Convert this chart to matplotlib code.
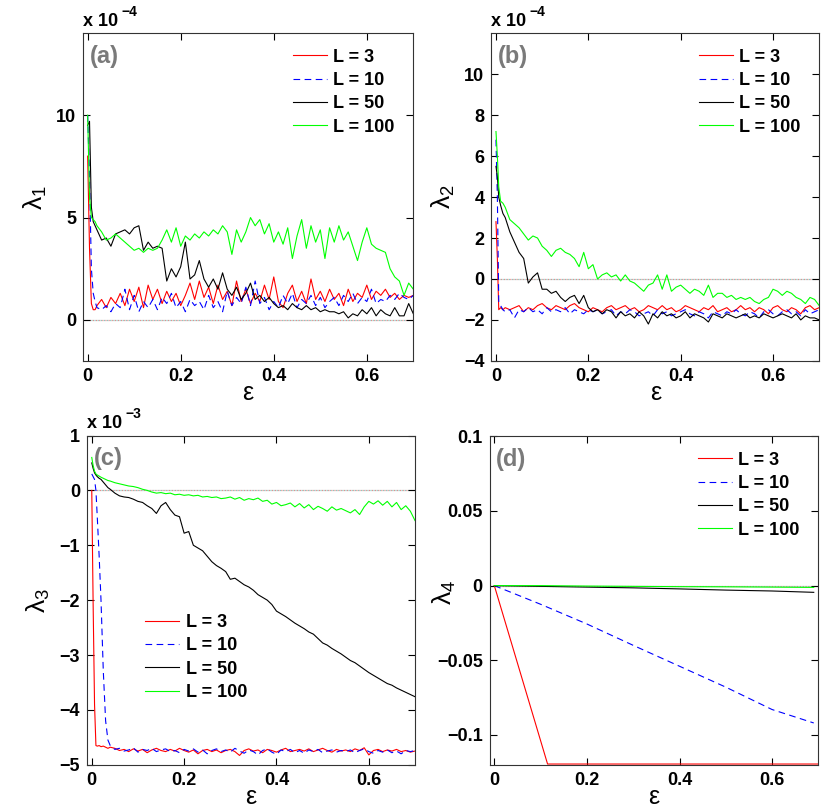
import numpy as np
import matplotlib
matplotlib.use('Agg')
import matplotlib.pyplot as plt

plt.rcParams['font.family'] = ['Liberation Sans', 'DejaVu Sans']
plt.rcParams['mathtext.fontset'] = 'custom'
plt.rcParams['mathtext.rm'] = 'Liberation Sans'
plt.rcParams['mathtext.bf'] = 'Liberation Sans:bold'
plt.rcParams['mathtext.it'] = 'Liberation Sans'
plt.rcParams['mathtext.default'] = 'regular'

labels = ['L = 3', 'L = 10', 'L = 50', 'L = 100']

# common tail grid 0.03 .. 0.70 (panels a, b)
tail_ab = np.round(np.arange(0.03, 0.7001, 0.01), 2)

# ---- (a) lambda_1, units of 1e-4
x_a = np.concatenate([[0, 0.004, 0.008, 0.012, 0.016, 0.02], tail_ab])
a_L3 = [8.0, 3.5, 0.8, 0.5, 0.5, 0.7,
        1.0, 0.6, 1.1, 0.8, 1.3, 0.7, 1.5, 0.9, 1.6, 0.6,
        1.7, 1.0, 1.5, 0.8, 1.4, 0.9, 1.3, 0.7, 1.2, 1.8,
        1.0, 1.9, 1.1, 1.6, 0.8, 1.7, 1.0, 1.4, 0.7, 1.9,
        0.9, 1.5, 0.8, 1.3, 0.9, 1.7, 1.0, 2.1, 0.9, 0.6,
        1.3, 1.7, 0.9, 1.4, 0.8, 2.0, 1.0, 1.4, 0.9, 1.5,
        1.0, 1.3, 0.7, 1.5, 0.9, 1.3, 1.1, 1.7, 1.0, 1.4,
        1.2, 1.5, 1.1, 1.3, 1.0, 1.2, 1.1, 1.2]
a_L10 = [10.0, 7.0, 2.5, 1.3, 0.9, 0.6,
         0.5, 0.7, 0.4, 0.8, 0.6, 1.5, 0.5, 1.2, 0.4, 0.9,
         0.6, 1.0, 0.5, 1.1, 0.8, 1.3, 0.6, 0.9, 0.4, 1.0,
         0.7, 0.9, 0.5, 1.2, 0.6, 0.9, 0.4, 1.4, 0.7, 1.1,
         0.8, 1.6, 0.7, 1.9, 0.8, 1.1, 0.5, 0.9, 0.6, 1.2,
         0.8, 1.3, 0.6, 1.0, 0.8, 1.2, 0.7, 1.1, 0.6, 0.9,
         1.1, 0.7, 1.2, 0.9, 1.3, 0.8, 1.1, 0.9, 1.5, 0.8,
         1.0, 0.9, 1.2, 1.0, 1.3, 1.1, 1.0, 1.2]
a_L50 = [9.5, 9.7, 5.5, 4.8, 4.6, 4.4,
         3.9, 4.0, 3.6, 4.2, 4.3, 4.4, 4.2, 4.5, 4.6, 3.4,
         3.8, 3.5, 3.6, 3.5, 1.9, 2.5, 2.1, 2.6, 3.8, 2.0,
         2.2, 2.9, 2.0, 1.6, 2.0, 1.5, 2.3, 1.5, 1.2, 1.6,
         1.0, 1.3, 1.8, 1.0, 1.2, 0.9, 1.1, 0.8, 0.6, 0.7,
         0.5, 0.8, 0.6, 0.5, 0.7, 0.5, 0.6, 0.4, 0.5, 0.4,
         0.4, 0.3, 0.4, 0.1, 0.3, 0.2, 0.5, 0.3, 0.6, 0.2,
         0.5, 0.3, 0.2, 0.6, 0.2, 0.2, 0.8, 0.3]
a_L100 = [10.0, 6.0, 5.0, 4.9, 4.8, 4.6,
          4.3, 3.9, 4.0, 4.2, 4.0, 3.8, 3.6, 3.4, 3.5, 3.3,
          3.5, 3.4, 3.5, 3.9, 4.4, 3.8, 4.5, 3.6, 4.1, 3.9,
          4.2, 4.0, 4.3, 4.1, 4.4, 4.2, 4.6, 4.3, 3.2, 4.4,
          3.8, 4.3, 5.0, 4.6, 4.9, 4.2, 4.7, 3.8, 4.3, 3.7,
          4.5, 3.0, 4.1, 4.9, 3.5, 4.6, 3.8, 4.4, 3.0, 4.5,
          3.8, 4.6, 3.9, 4.3, 3.6, 2.9, 3.8, 4.5, 3.7, 3.5,
          3.4, 3.3, 2.5, 2.1, 1.9, 1.2, 1.8, 1.5]

# ---- (b) lambda_2, units of 1e-4
x_b = np.concatenate([[0, 0.003, 0.006, 0.01, 0.015, 0.02], tail_ab])
b_L3 = [2.8, 1.0, -1.5, -1.4, -1.5, -1.4,
        -1.5, -1.4, -1.3, -1.6, -1.4, -1.5, -1.3, -1.2, -1.4, -1.5,
        -1.3, -1.4, -1.5, -1.3, -1.2, -1.4, -1.5, -1.6, -1.4, -1.5,
        -1.6, -1.4, -1.3, -1.5, -1.4, -1.3, -1.5, -1.4, -1.6, -1.5,
        -1.3, -1.4, -1.5, -1.3, -1.5, -1.4, -1.6, -1.5, -1.3, -1.4,
        -1.5, -1.6, -1.4, -1.5, -1.3, -1.6, -1.5, -1.4, -1.6, -1.5,
        -1.3, -1.5, -1.4, -1.6, -1.4, -1.5, -1.7, -1.4, -1.3, -1.5,
        -1.6, -1.4, -1.5, -1.7, -1.4, -1.3, -1.5, -1.4]
b_L10 = [6.8, 4.0, -1.1, -1.3, -1.5, -1.6,
         -1.5, -1.9, -1.5, -1.6, -1.4, -1.6, -1.5, -1.7, -1.4, -1.6,
         -1.5, -1.6, -1.4, -1.7, -1.5, -1.6, -1.7, -1.5, -1.6, -1.5,
         -1.7, -1.6, -1.5, -1.8, -1.6, -1.7, -1.5, -1.6, -1.8, -1.7,
         -1.6, -1.8, -1.5, -1.7, -1.6, -1.8, -1.7, -1.6, -1.5, -1.7,
         -1.8, -1.6, -1.7, -1.9, -1.6, -1.7, -1.8, -1.6, -1.7, -1.5,
         -1.7, -1.8, -1.6, -1.7, -1.9, -1.6, -1.5, -1.7, -1.8, -1.6,
         -1.5, -1.7, -1.6, -1.8, -1.5, -1.7, -1.6, -1.5]
b_L50 = [5.5, 5.0, 4.0, 3.6, 3.2, 3.0,
         2.3, 1.8, 1.3, 1.0, -0.2, 0.1, 0.3, -0.5, -0.5, -0.7,
         -0.6, -0.9, -1.1, -0.9, -0.8, -1.2, -0.8, -1.4, -1.6, -1.5,
         -1.7, -1.5, -1.6, -1.9, -1.6, -1.8, -1.7, -1.9, -1.6, -1.8,
         -2.2, -1.7, -1.9, -1.6, -1.8, -1.7, -1.9, -1.8, -1.6, -1.9,
         -1.7, -1.8, -1.9, -2.1, -1.7, -1.8, -1.9, -1.7, -1.8, -1.9,
         -1.8, -1.7, -1.9, -1.8, -1.9, -1.7, -1.8, -1.9, -1.8, -1.7,
         -1.8, -1.9, -1.7, -2.0, -1.8, -1.9, -1.9, -2.0]
b_L100 = [7.2, 6.0, 4.5, 3.8, 3.7, 3.5,
          2.9, 2.7, 2.5, 2.2, 1.9, 2.1, 2.0, 1.6, 1.4, 1.1,
          1.4, 1.5, 1.3, 1.2, 1.0, 0.6, 1.3, 0.5, 0.7, 0.0,
          0.2, 0.3, 0.1, 0.2, -0.1, 0.2, -0.1, -0.2, -0.4, -0.6,
          -0.3, -0.2, 0.2, -0.5, 0.2, -0.6, -0.4, -0.3, -0.5, -0.7,
          -0.5, -0.6, -0.8, -0.3, -0.9, -0.7, -0.7, -0.9, -0.8, -1.0,
          -0.9, -1.0, -0.9, -1.1, -1.2, -1.0, -0.9, -0.5, -0.6, -0.8,
          -0.6, -0.7, -0.9, -1.0, -1.2, -0.9, -1.0, -1.3]

# ---- (c) lambda_3, units of 1e-3
tail_c = np.round(np.arange(0.05, 0.7001, 0.01), 2)
x_c = np.concatenate([[0, 0.003, 0.006, 0.009, 0.012, 0.016, 0.02, 0.025, 0.03, 0.035, 0.04], tail_c])
c_L3 = [0.0, -2.1, -3.9, -4.65, -4.66, -4.65, -4.67, -4.66, -4.68, -4.70, -4.68,
        -4.70, -4.74, -4.72, -4.76, -4.71, -4.75, -4.72, -4.78, -4.73, -4.70,
        -4.74, -4.76, -4.72, -4.75, -4.70, -4.74, -4.77, -4.73, -4.80, -4.74,
        -4.72, -4.76, -4.73, -4.78, -4.74, -4.72, -4.76, -4.83, -4.74, -4.71,
        -4.75, -4.73, -4.78, -4.72, -4.74, -4.77, -4.73, -4.70, -4.76, -4.74,
        -4.72, -4.75, -4.71, -4.76, -4.73, -4.70, -4.74, -4.77, -4.72, -4.75,
        -4.73, -4.76, -4.71, -4.74, -4.69, -4.82, -4.74, -4.72, -4.76, -4.73,
        -4.75, -4.72, -4.76, -4.74, -4.77, -4.75]
c_L10 = [0.3, 0.25, 0.2, 0.0, -0.5, -1.2, -2.0, -3.3, -4.2, -4.55, -4.65,
         -4.72, -4.70, -4.75, -4.73, -4.69, -4.77, -4.72, -4.74, -4.70, -4.76,
         -4.73, -4.71, -4.76, -4.74, -4.78, -4.72, -4.75, -4.71, -4.77, -4.73,
         -4.80, -4.74, -4.71, -4.76, -4.73, -4.77, -4.70, -4.75, -4.79, -4.73,
         -4.76, -4.82, -4.74, -4.71, -4.77, -4.81, -4.73, -4.76, -4.72, -4.78,
         -4.74, -4.79, -4.73, -4.76, -4.72, -4.78, -4.75, -4.73, -4.77, -4.74,
         -4.76, -4.73, -4.78, -4.74, -4.71, -4.76, -4.79, -4.74, -4.77, -4.73,
         -4.78, -4.75, -4.80, -4.74, -4.76, -4.74]
c_L50 = [0.5, 0.4, 0.32, 0.28, 0.25, 0.22, 0.2, 0.15, 0.1, 0.05, 0.02,
         -0.05, -0.1, -0.12, -0.13, -0.16, -0.2, -0.22, -0.28, -0.33, -0.42,
         -0.28, -0.22, -0.35, -0.45, -0.48, -0.78, -0.75, -1.0, -1.05, -1.1,
         -1.2, -1.3, -1.37, -1.42, -1.48, -1.62, -1.6, -1.66, -1.72, -1.76,
         -1.82, -1.9, -1.95, -2.0, -2.08, -2.2, -2.25, -2.3, -2.36, -2.42,
         -2.47, -2.52, -2.58, -2.62, -2.7, -2.78, -2.82, -2.88, -2.93, -2.98,
         -3.04, -3.1, -3.14, -3.2, -3.26, -3.32, -3.37, -3.42, -3.47, -3.52,
         -3.55, -3.6, -3.64, -3.68, -3.72, -3.76]
c_L100 = [0.6, 0.45, 0.35, 0.3, 0.28, 0.26, 0.24, 0.22, 0.2, 0.18, 0.17,
          0.14, 0.12, 0.1, 0.08, 0.07, 0.05, 0.02, 0.0, -0.03, -0.05,
          -0.04, -0.06, -0.05, -0.08, -0.07, -0.09, -0.08, -0.10, -0.09, -0.12,
          -0.11, -0.13, -0.12, -0.15, -0.14, -0.12, -0.16, -0.13, -0.18, -0.15,
          -0.17, -0.14, -0.2, -0.18, -0.25, -0.22, -0.28, -0.26, -0.23, -0.3,
          -0.24, -0.32, -0.26, -0.35, -0.29, -0.33, -0.38, -0.3, -0.36, -0.33,
          -0.37, -0.41, -0.35, -0.44, -0.3, -0.2, -0.25, -0.19, -0.27, -0.2,
          -0.3, -0.22, -0.35, -0.28, -0.38, -0.55]

# ---- (d) lambda_4, real units
x_d_L3 = [0, 0.115, 0.7]
d_L3 = [0, -0.1195, -0.1195]
x_d = [0, 0.1, 0.2, 0.3, 0.4, 0.5, 0.6, 0.69]
d_L10 = [0, -0.0125, -0.0257, -0.040, -0.054, -0.068, -0.083, -0.092]
d_L50 = [0, -0.0005, -0.001, -0.0015, -0.0022, -0.003, -0.0036, -0.0045]
d_L100 = [0, 0, -0.0003, -0.0005, -0.0007, -0.0008, -0.001, -0.0012]

colors = ['#ff0000', '#0000ff', '#000000', '#00ff00']
styles = ['-', (0, (6, 4)), '-', '-']

fig = plt.figure(figsize=(8.30, 8.11), dpi=100)
ax_a = fig.add_axes([0.100, 0.555, 0.398, 0.404])
ax_b = fig.add_axes([0.592, 0.555, 0.395, 0.404])
ax_c = fig.add_axes([0.105, 0.057, 0.395, 0.406])
ax_d = fig.add_axes([0.590, 0.057, 0.396, 0.405])

panels = [
    (ax_a, [(x_a, a_L3), (x_a, a_L10), (x_a, a_L50), (x_a, a_L100)], (-2, 14), [0, 5, 10],
     r'$\lambda_1$', (-0.103, 0.497), '(a)', '-4'),
    (ax_b, [(x_b, b_L3), (x_b, b_L10), (x_b, b_L50), (x_b, b_L100)], (-4, 12), [-4, -2, 0, 2, 4, 6, 8, 10],
     r'$\lambda_2$', (-0.104, 0.5), '(b)', '-4'),
    (ax_c, [(x_c, c_L3), (x_c, c_L10), (x_c, c_L50), (x_c, c_L100)], (-5, 1), [-5, -4, -3, -2, -1, 0, 1],
     r'$\lambda_3$', (-0.107, 0.5), '(c)', '-3'),
    (ax_d, [(x_d_L3, d_L3), (x_d, d_L10), (x_d, d_L50), (x_d, d_L100)], (-0.12, 0.1), [-0.1, -0.05, 0, 0.05, 0.1],
     r'$\lambda_4$', (-0.097, 0.524), '(d)', None),
]

for ax, series, ylim, yticks, ylab, ylab_pos, tag, expo in panels:
    # faint dotted zero line
    ax.axhline(0, color='#e09090', ls=(0, (1, 1.5)), lw=0.9, zorder=1)
    ax.axhline(0, color='#90c8c0', ls=(1.2, (1, 1.5)), lw=0.9, zorder=1)
    for (xs, ys), c, s, lab in zip(series, colors, styles, labels):
        ax.plot(xs, ys, color=c, ls=s, lw=0.8, label=lab, zorder=2)
    ax.set_xlim(-0.01, 0.70)
    ax.set_ylim(*ylim)
    ax.set_xticks([0, 0.2, 0.4, 0.6])
    ax.set_xticklabels(['0', '0.2', '0.4', '0.6'])
    ax.set_yticks(yticks)
    if ax is ax_d:
        ax.set_yticklabels(['\u22120.1', '\u22120.05', '0', '0.05', '0.1'])
    else:
        ax.set_yticklabels([str(v).replace('-', '\u2212') for v in yticks])
    ax.tick_params(direction='in', top=True, right=True, length=5, width=0.8,
                   labelsize=13, pad=5)
    for t in ax.get_xticklabels() + ax.get_yticklabels():
        t.set_fontweight('bold')
    for sp in ax.spines.values():
        sp.set_linewidth(0.8)
        sp.set_color('#333333')
    ax.set_xlabel('\u03b5', fontsize=18, labelpad=-3)
    ax.set_ylabel(ylab, fontsize=19)
    ax.yaxis.set_label_coords(*ylab_pos)
    ax.text(0.02, 0.965, tag, transform=ax.transAxes, fontsize=17,
            color='#7a7a7a', ha='left', va='top', fontweight='bold')
    if expo:
        ax.text(0.0, 1.01, 'x 10', transform=ax.transAxes, fontsize=13,
                fontweight='bold', ha='left', va='bottom')
        ax.text(0.117, 1.045, '\u2212' + expo[1:], transform=ax.transAxes, fontsize=10,
                fontweight='bold', ha='left', va='bottom')

leg_kw = dict(frameon=False, handlelength=1.9, handletextpad=0.35, labelspacing=0.35,
              borderaxespad=0.0, prop={'weight': 'bold', 'size': 13})
ax_a.legend(loc='upper right', bbox_to_anchor=(0.965, 0.975), **leg_kw)
ax_b.legend(loc='upper right', bbox_to_anchor=(0.965, 0.975), **leg_kw)
ax_c.legend(loc='upper left', bbox_to_anchor=(0.155, 0.48), **leg_kw)
ax_d.legend(loc='upper right', bbox_to_anchor=(0.965, 0.975), **leg_kw)

fig.savefig('out.png', dpi=100)
